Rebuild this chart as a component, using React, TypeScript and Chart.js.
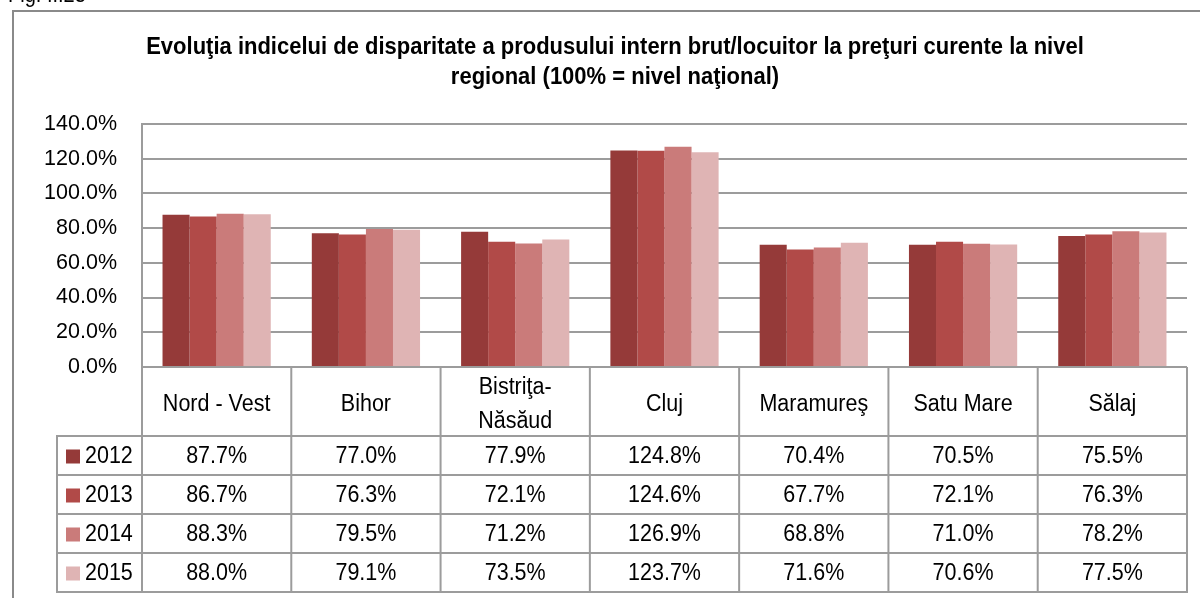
import React, { useEffect, useRef } from "react";
import { Chart, registerables } from "chart.js";

Chart.register(...registerables);

const figLabel = "Fig. II.23";
const titleLines = [
  "Evoluţia indicelui de disparitate a produsului intern brut/locuitor la preţuri curente la nivel",
  "regional (100% = nivel naţional)",
];
const categories: (string | string[])[] = [
  "Nord - Vest",
  "Bihor",
  ["Bistriţa-", "Năsăud"],
  "Cluj",
  "Maramureş",
  "Satu Mare",
  "Sălaj",
];
const years = ["2012", "2013", "2014", "2015"];
const values2012 = [87.7, 77.0, 77.9, 124.8, 70.4, 70.5, 75.5];
const values2013 = [86.7, 76.3, 72.1, 124.6, 67.7, 72.1, 76.3];
const values2014 = [88.3, 79.5, 71.2, 126.9, 68.8, 71.0, 78.2];
const values2015 = [88.0, 79.1, 73.5, 123.7, 71.6, 70.6, 77.5];
const seriesValues = [values2012, values2013, values2014, values2015];
const seriesColors = ["#953A39", "#B14A48", "#CA7B7A", "#DFB4B4"];
const yMin = 0;
const yMax = 140;
const yStep = 20;

const FONT = "'Liberation Sans', Arial, sans-serif";
const GRID = "#9c9c9c";

const fmt = (v: number) => v.toFixed(1) + "%";

function drawText(ctx: any, text: string, x: number, y: number, sy: number) {
  ctx.save();
  ctx.translate(x, y);
  ctx.scale(1, sy);
  ctx.fillText(text, 0, 0);
  ctx.restore();
}

const framePlugin = {
  id: "frame",
  beforeDraw(chart: any) {
    const ctx = chart.ctx;
    ctx.save();
    ctx.fillStyle = "#fff";
    ctx.fillRect(0, 0, chart.width, chart.height);
    ctx.strokeStyle = "#8a8a8a";
    ctx.lineWidth = 2;
    ctx.beginPath();
    ctx.moveTo(13, chart.height);
    ctx.lineTo(13, 11);
    ctx.lineTo(chart.width, 11);
    ctx.stroke();
    ctx.fillStyle = "#000";
    ctx.font = `20px ${FONT}`;
    ctx.textAlign = "left";
    ctx.textBaseline = "alphabetic";
    drawText(ctx, figLabel, 8, 2, 1.1);
    ctx.font = `bold 22px ${FONT}`;
    ctx.textAlign = "center";
    drawText(ctx, titleLines[0], 615, 54, 1.12);
    drawText(ctx, titleLines[1], 615, 84, 1.12);
    ctx.restore();
  },
};

const tablePlugin = {
  id: "dataTable",
  afterDraw(chart: any) {
    const ctx = chart.ctx;
    const { left, right, bottom } = chart.chartArea;
    const labels = chart.data.labels as (string | string[])[];
    const n = labels.length;
    const w = (right - left) / n;
    const headerH = 69;
    const rowH = 39;
    const legendLeft = 57;
    const rowsTop = bottom + headerH;
    const tableBottom = rowsTop + rowH * chart.data.datasets.length;
    ctx.save();
    ctx.strokeStyle = GRID;
    ctx.lineWidth = 2;
    ctx.beginPath();
    for (let i = 0; i <= n; i++) {
      const x = left + i * w;
      ctx.moveTo(x, bottom);
      ctx.lineTo(x, tableBottom);
    }
    ctx.moveTo(legendLeft, rowsTop);
    ctx.lineTo(legendLeft, tableBottom);
    for (let r = 0; r <= chart.data.datasets.length; r++) {
      const y = rowsTop + r * rowH;
      ctx.moveTo(legendLeft - 1, y);
      ctx.lineTo(right + 1, y);
    }
    ctx.stroke();

    ctx.fillStyle = "#000";
    ctx.font = `21.5px ${FONT}`;
    ctx.textAlign = "center";
    ctx.textBaseline = "middle";
    const xs = chart.scales.x;
    labels.forEach((lab, i) => {
      const cx = xs.getPixelForValue(i);
      const lines = Array.isArray(lab) ? lab : [lab];
      const lh = 34;
      const cy = bottom + headerH / 2 + 3;
      lines.forEach((ln, k) => {
        drawText(ctx, ln, cx, cy + (k - (lines.length - 1) / 2) * lh, 1.07);
      });
    });
    chart.data.datasets.forEach((ds: any, r: number) => {
      const cy = rowsTop + r * rowH + rowH / 2 + 1;
      ds.data.forEach((v: number, i: number) => {
        ctx.textAlign = "center";
        ctx.fillStyle = "#000";
        drawText(ctx, fmt(v), xs.getPixelForValue(i), cy, 1.07);
      });
      ctx.fillStyle = ds.backgroundColor;
      ctx.fillRect(66, cy - 7, 14, 14);
      ctx.fillStyle = "#000";
      ctx.textAlign = "left";
      drawText(ctx, ds.label, 85, cy, 1.07);
    });
    ctx.restore();
  },
};

export default function App() {
  const ref = useRef<HTMLCanvasElement>(null);
  useEffect(() => {
    if (!ref.current) return;
    const chart = new Chart(ref.current, {
      type: "bar",
      data: {
        labels: categories as any,
        datasets: years.map((y, d) => ({
          label: y,
          data: seriesValues[d],
          backgroundColor: seriesColors[d],
          borderWidth: 0,
          categoryPercentage: 0.725,
          barPercentage: 1.0,
        })),
      },
      options: {
        animation: false,
        responsive: false,
        devicePixelRatio: 1,
        layout: { padding: { left: 0, right: 13, top: 124, bottom: 231 } },
        plugins: {
          legend: { display: false },
          title: { display: false },
          tooltip: { enabled: false },
        },
        scales: {
          x: { display: false, offset: true },
          y: {
            min: yMin,
            max: yMax,
            afterFit: (scale: any) => {
              scale.width = 142;
            },
            ticks: {
              stepSize: yStep,
              padding: 25,
              color: "#000",
              font: { family: FONT, size: 21.5 },
              callback: (v: any) => fmt(Number(v)),
            },
            grid: { color: GRID, lineWidth: 2, drawTicks: false },
            border: { display: true, color: GRID, width: 2 },
          },
        },
      },
      plugins: [framePlugin, tablePlugin],
    });
    return () => chart.destroy();
  }, []);
  return (
    <div style={{ position: "fixed", left: 0, top: 0, width: 1200, height: 598, background: "#fff" }}>
      <canvas ref={ref} width={1200} height={598} style={{ display: "block" }} />
    </div>
  );
}
